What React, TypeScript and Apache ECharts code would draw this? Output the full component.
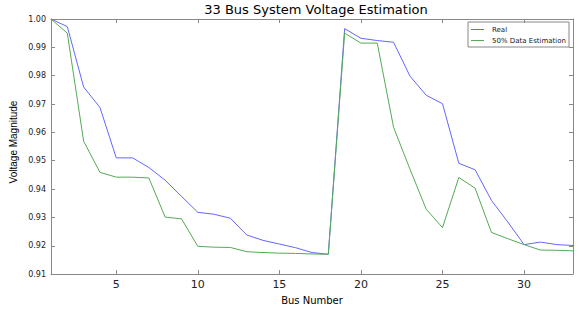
import React, { useEffect, useRef } from "react";
import * as echarts from "echarts";

const busNumbers = [1,2,3,4,5,6,7,8,9,10,11,12,13,14,15,16,17,18,19,20,21,22,23,24,25,26,27,28,29,30,31,32,33];
const realValues = [1.0,0.9973,0.976,0.9688,0.951,0.951,0.9476,0.9431,0.9374,0.9318,0.9311,0.9297,0.9238,0.9219,0.9206,0.9193,0.9176,0.917,0.9966,0.9932,0.9924,0.9918,0.9799,0.9731,0.9701,0.9491,0.9468,0.936,0.9284,0.9204,0.9213,0.9204,0.9201];
const estValues = [1.0,0.995,0.9569,0.9459,0.9442,0.9442,0.9439,0.9301,0.9295,0.9198,0.9195,0.9194,0.9179,0.9176,0.9174,0.9173,0.9171,0.917,0.995,0.9915,0.9915,0.9618,0.9471,0.9329,0.9264,0.9441,0.9403,0.9247,0.9225,0.9204,0.9185,0.9184,0.9182];
const xTicks = [5, 10, 15, 20, 25, 30];
const seriesNames = ["Real", "50% Data Estimation"];

export default function App() {
  const ref = useRef<HTMLDivElement>(null);
  useEffect(() => {
    if (!ref.current) return;
    const chart = echarts.init(ref.current, undefined, { renderer: "svg" });
    const axisColor = "#888";
    const font = "DejaVu Sans";
    chart.setOption({
      animation: false,
      textStyle: { fontFamily: font },
      title: {
        text: "33 Bus System Voltage Estimation",
        left: 316,
        textAlign: "center",
        top: 0,
        padding: [3, 0, 0, 0],
        textStyle: { fontSize: 13, fontWeight: "normal", color: "#000", fontFamily: font },
      },
      legend: {
        orient: "vertical",
        right: 10,
        top: 22,
        itemWidth: 13,
        itemHeight: 1,
        itemGap: 4,
        padding: [4, 3, 3, 3],
        borderColor: "#888",
        borderWidth: 1,
        icon: "rect",
        textStyle: { fontSize: 7, color: "#222", fontFamily: font, padding: [0, 0, 0, 3] },
        data: seriesNames,
      },
      graphic: [
        {
          type: "text",
          x: 13,
          y: 142,
          rotation: Math.PI / 2,
          style: {
            text: "Voltage Magnitude",
            fontSize: 10,
            fontFamily: "Liberation Sans",
            fill: "#000",
            align: "center",
            verticalAlign: "middle",
          },
          originX: 0,
          originY: 0,
        },
      ],
      grid: { left: 51, right: 6, top: 19, bottom: 26 },
      xAxis: [
        {
          type: "value",
          min: 1,
          max: 33,
          name: "Bus Number",
          nameLocation: "middle",
          nameGap: 17,
          nameTextStyle: { fontSize: 10, color: "#000" },
          axisLine: { lineStyle: { color: axisColor } },
          axisTick: { inside: true, length: 4, customValues: xTicks, lineStyle: { color: axisColor } },
          axisLabel: { customValues: xTicks, fontSize: 11, color: "#222", margin: 5 },
          splitLine: { show: false },
        },
        {
          type: "value",
          min: 1,
          max: 33,
          position: "top",
          axisLine: { lineStyle: { color: axisColor } },
          axisTick: { inside: true, length: 4, customValues: xTicks, lineStyle: { color: axisColor } },
          axisLabel: { show: false },
          splitLine: { show: false },
        },
      ],
      yAxis: [
        {
          type: "value",
          min: 0.91,
          max: 1.0,
          interval: 0.01,
          axisLine: { show: true, lineStyle: { color: axisColor } },
          axisTick: { show: true, inside: true, length: 4, lineStyle: { color: axisColor } },
          axisLabel: { fontSize: 8, color: "#222", margin: 5, formatter: (v: number) => v.toFixed(2) },
          splitLine: { show: false },
        },
        {
          type: "value",
          min: 0.91,
          max: 1.0,
          interval: 0.01,
          position: "right",
          axisLine: { show: true, lineStyle: { color: axisColor } },
          axisTick: { show: true, inside: true, length: 4, lineStyle: { color: axisColor } },
          axisLabel: { show: false },
          splitLine: { show: false },
        },
      ],
      series: [
        {
          name: seriesNames[0],
          type: "line",
          data: busNumbers.map((b, i) => [b, realValues[i]]),
          showSymbol: false,
          symbol: "none",
          lineStyle: { color: "#6666ff", width: 1 },
          itemStyle: { color: "#6666ff" },
        },
        {
          name: seriesNames[1],
          type: "line",
          data: busNumbers.map((b, i) => [b, estValues[i]]),
          showSymbol: false,
          symbol: "none",
          lineStyle: { color: "#55aa55", width: 1 },
          itemStyle: { color: "#55aa55" },
        },
      ],
    });
    return () => chart.dispose();
  }, []);
  return <div ref={ref} style={{ width: 579, height: 310, position: "absolute", left: 0, top: 0 }} />;
}
